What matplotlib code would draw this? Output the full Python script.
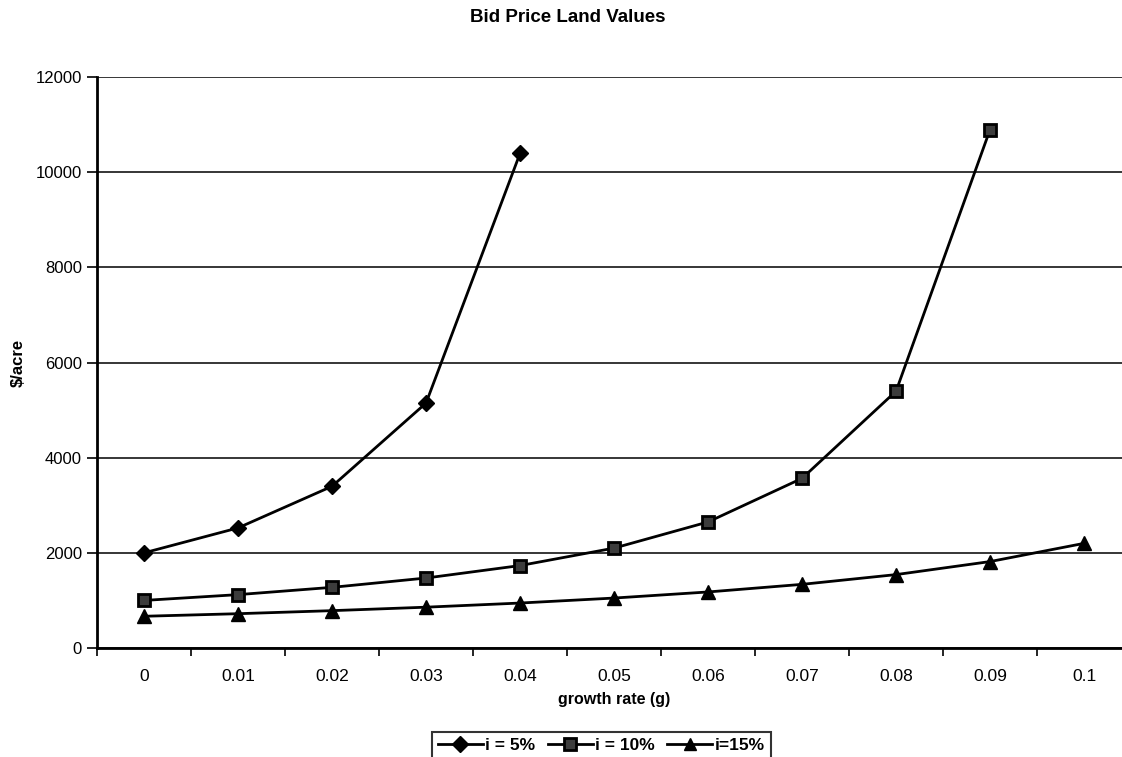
import matplotlib
matplotlib.use("Agg")
import matplotlib.pyplot as plt
from matplotlib.ticker import FixedLocator, NullFormatter

plt.rcParams['font.family'] = ['Liberation Sans', 'DejaVu Sans']

# growth rate categories and bid price per acre for three interest rates
growth = ['0', '0.01', '0.02', '0.03', '0.04', '0.05', '0.06', '0.07', '0.08', '0.09', '0.1']
i5 = [2000, 2525, 3400, 5150, 10400]
i10 = [1000, 1122, 1275, 1471, 1733, 2100, 2650, 3567, 5400, 10900]
i15 = [667, 721, 785, 858, 945, 1050, 1178, 1338, 1543, 1817, 2200]
yticks = [0, 2000, 4000, 6000, 8000, 10000, 12000]

fig = plt.figure(figsize=(11.22, 7.57), dpi=100)
ax = fig.add_axes([0.0865, 0.144, 0.9216, 0.754])

ax.plot(range(len(i5)), i5, color='black', lw=2, marker='D', ms=8.5,
        mfc='black', mec='black', label='i = 5%')
ax.plot(range(len(i10)), i10, color='black', lw=2, marker='s', ms=9,
        mfc='#3c3c3c', mec='black', mew=2, label='i = 10%')
ax.plot(range(len(i15)), i15, color='black', lw=2, marker='^', ms=10,
        mfc='black', mec='black', label='i=15%')

ax.set_xlim(-0.5, len(growth) - 0.5)
ax.set_ylim(0, 12000)
ax.set_yticks(yticks)
ax.set_yticklabels([str(v) for v in yticks], fontsize=12)
ax.yaxis.grid(True, color='black', lw=1.1)
ax.set_axisbelow(True)

# category labels centred, tick marks between categories
ax.set_xticks(range(len(growth)))
ax.set_xticklabels(growth, fontsize=12.5)
ax.tick_params(axis='x', which='major', length=0, pad=15)
ax.xaxis.set_minor_locator(FixedLocator([k - 0.5 for k in range(len(growth) + 1)]))
ax.xaxis.set_minor_formatter(NullFormatter())
ax.tick_params(axis='x', which='minor', length=6, width=1.2, direction='out')
ax.tick_params(axis='y', length=7, width=1.2, direction='out', pad=4)

for side in ['top', 'right']:
    ax.spines[side].set_visible(False)
for side in ['left', 'bottom']:
    ax.spines[side].set_linewidth(2)

ax.set_xlabel('growth rate (g)', fontsize=11.5, fontweight='bold', labelpad=6)
ax.set_ylabel('$/acre', fontsize=12, fontweight='bold')
ax.yaxis.set_label_coords(-0.069, 0.5)
fig.suptitle('Bid Price Land Values', fontsize=13.5, fontweight='bold', x=0.506, y=0.988)

leg = fig.legend(loc='lower center', bbox_to_anchor=(0.536, -0.014), ncol=3,
                 fontsize=12.5, frameon=True, fancybox=False, handlelength=2.6,
                 handletextpad=0.15, columnspacing=0.7, borderpad=0.35,
                 markerscale=0.9)
leg.get_frame().set_edgecolor('black')
leg.get_frame().set_linewidth(1.5)
for t in leg.get_texts():
    t.set_fontweight('bold')

fig.savefig('out.png', dpi=100)
